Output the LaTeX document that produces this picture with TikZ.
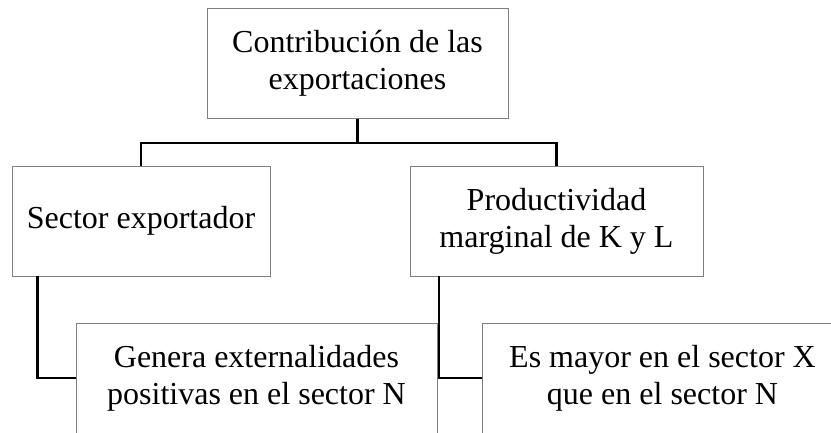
\documentclass[tikz,border=0pt]{standalone}
\usepackage{fontspec}
\setmainfont{Liberation Serif}
\usetikzlibrary{calc,positioning}

\tikzset{
  box/.style={draw=gray, line width=0.8pt, fill=white, align=center,
    inner sep=0pt, minimum height=110pt,
    font=\fontsize{32}{37}\selectfont},
  link/.style={black, line width=2.6pt}
}

\begin{document}
\begin{tikzpicture}[x=1pt,y=-1pt]
  \useasboundingbox (0,0) rectangle (831,432);
  \clip (0,0) rectangle (831,432);

  % 1) top box
  \node[box, minimum width=301pt] (contrib) at (357.5,63.7)
    {Contribución de las\\exportaciones};

  % 2) second row
  \node[box, minimum width=258pt] (sector) at (141,221) {Sector exportador};
  \node[box, minimum width=293pt] (prodmg) at (556.5,221)
    {Productividad\\marginal de K y L};

  % 3) third row (cut by the page edge)
  \node[box, minimum width=361pt] (genera) at (256.5,378)
    {Genera externalidades\\positivas en el sector N};
  \node[box, minimum width=361pt] (mayor) at (662.5,378)
    {Es mayor en el sector X\\que en el sector N};

  % connectors
  \coordinate (fork) at ($(contrib.south)+(0,24)$);
  \draw[link] (contrib.south) -- (fork);
  \draw[link] (sector.north) |- (fork) -| (prodmg.north);

  \draw[link] ($(sector.south west)!0.1!(sector.south east)$) |- (genera.west);
  \draw[link] ($(prodmg.south west)!0.1!(prodmg.south east)$) |- (mayor.west);
\end{tikzpicture}
\end{document}
